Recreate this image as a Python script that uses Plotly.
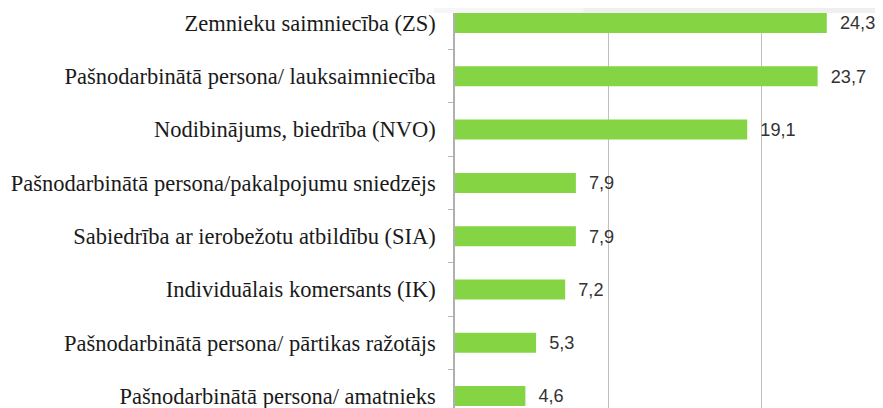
import plotly.graph_objects as go

categories = [
    "Zemnieku saimniecība (ZS)",
    "Pašnodarbinātā persona/ lauksaimniecība",
    "Nodibinājums, biedrība (NVO)",
    "Pašnodarbinātā persona/pakalpojumu sniedzējs",
    "Sabiedrība ar ierobežotu atbildību (SIA)",
    "Individuālais komersants (IK)",
    "Pašnodarbinātā persona/ pārtikas ražotājs",
    "Pašnodarbinātā persona/ amatnieks",
]
values = [24.3, 23.7, 19.1, 7.9, 7.9, 7.2, 5.3, 4.6]

# page body has an 8px margin; compensate
OFF = 8
W, H = 883 - OFF, 408 - OFF
left, top = 455 - OFF, 13 - OFF
plot_h = H - top

fig = go.Figure(go.Bar(
    x=values,
    y=categories,
    orientation="h",
    marker=dict(color="#84D444", line=dict(width=0)),
    texttemplate="  %{x:.1f}",
    textposition="outside",
    textfont=dict(family="Liberation Sans", size=20, color="#333333"),
    cliponaxis=False,
    width=0.375,
))

fig.update_layout(
    width=W, height=H,
    margin=dict(l=left, r=0, t=top, b=0, pad=0, autoexpand=False),
    paper_bgcolor="white",
    plot_bgcolor="white",
    separators=", ",
    showlegend=False,
    shapes=[
        dict(type="rect", xref="paper", yref="paper",
             x0=-0.05, x1=0.3, y0=1, y1=1 + top / plot_h,
             fillcolor="#f6f6f6", line=dict(width=0), layer="below"),
        dict(type="rect", xref="paper", yref="paper",
             x0=0.3, x1=1.0, y0=1, y1=1 + top / plot_h,
             fillcolor="#efefef", line=dict(width=0), layer="below"),
    ],
)

fig.update_xaxes(
    range=[0, (W - left) / 15.3],
    dtick=10,
    showgrid=True,
    gridcolor="#c0c0c0",
    gridwidth=1,
    showticklabels=False,
    zeroline=False,
    showline=False,
    ticks="",
    automargin=False,
)

fig.update_yaxes(
    type="category",
    categoryorder="array",
    categoryarray=categories,
    range=[(408 - 23) / 53.3, -(23 - 13) / 53.3],
    showline=True,
    linecolor="#b0b0b0",
    linewidth=1.5,
    ticks="outside",
    ticklen=5,
    tickcolor="#b8b8b8",
    tickson="boundaries",
    ticklabelstandoff=13,
    tickfont=dict(family="Liberation Serif", size=22.5, color="#1a1a1a"),
    showgrid=False,
    automargin=False,
)

fig.write_html("out.html")
